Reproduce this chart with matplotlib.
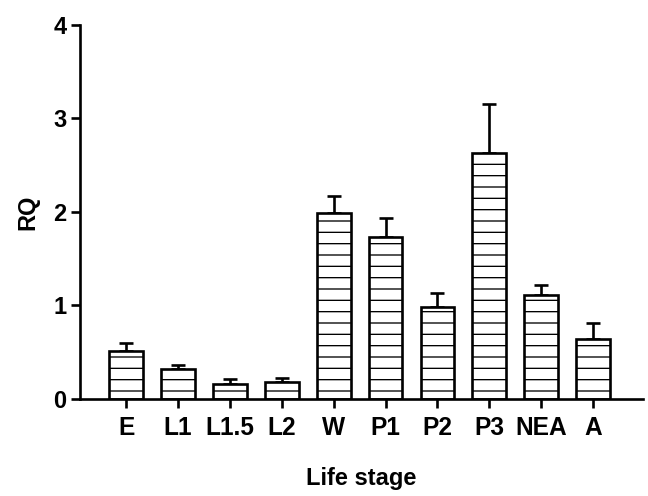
import matplotlib
matplotlib.use('Agg')
import matplotlib.pyplot as plt

stages = ['E', 'L1', 'L1.5', 'L2', 'W', 'P1', 'P2', 'P3', 'NEA', 'A']
rq_mean = [0.51, 0.32, 0.16, 0.18, 1.99, 1.73, 0.98, 2.63, 1.11, 0.64]
rq_upper = [0.60, 0.36, 0.21, 0.22, 2.17, 1.94, 1.13, 3.15, 1.22, 0.81]

dpi = 68
plt.rcParams['font.family'] = ['Liberation Sans', 'DejaVu Sans']
plt.rcParams['font.weight'] = 'bold'
plt.rcParams['hatch.linewidth'] = 1.4
plt.rcParams['hatch.color'] = '#444444'

fig = plt.figure(figsize=(648 / dpi, 496 / dpi), dpi=dpi)
ax = fig.add_axes([0.1235, 0.1956, 0.8685, 0.754])

x = list(range(len(stages)))
err = [u - m for u, m in zip(rq_upper, rq_mean)]

ax.bar(x, rq_mean, width=0.65, color='white', edgecolor='black',
       linewidth=2.8, hatch='-', zorder=2)
ax.errorbar(x, rq_mean, yerr=[[0] * len(err), err], fmt='none',
            ecolor='black', elinewidth=2.8, capsize=7, capthick=2.8, zorder=1)

ax.set_xlim(-0.89, 9.96)
ax.set_ylim(0, 4)
ax.set_yticks([0, 1, 2, 3, 4])
ax.set_xticks(x)
ax.set_xticklabels(stages, fontsize=26, fontweight='bold')
for lab in ax.get_yticklabels():
    lab.set_fontsize(25)
    lab.set_fontweight('bold')

ax.spines['top'].set_visible(False)
ax.spines['right'].set_visible(False)
ax.spines['left'].set_linewidth(2.8)
ax.spines['bottom'].set_linewidth(2.8)
ax.tick_params(axis='both', direction='out', length=9.5, width=2.8)
ax.tick_params(axis='x', pad=9)
ax.tick_params(axis='y', pad=5)

ax.set_ylabel('RQ', fontsize=25, fontweight='bold', labelpad=14)
ax.set_xlabel('Life stage', fontsize=25, fontweight='bold', labelpad=28)

fig.savefig('out.png', dpi=dpi)
plt.close()
